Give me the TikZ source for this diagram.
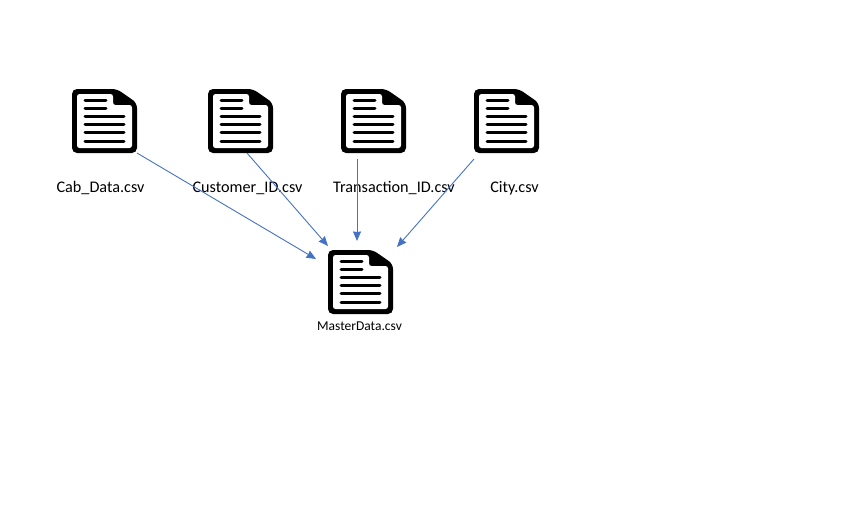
\documentclass[tikz,border=0pt]{standalone}
\usepackage{fontspec}
\setmainfont{Carlito}
\usetikzlibrary{arrows.meta}
\definecolor{linkblue}{HTML}{4472C4}
\tikzset{
  docbox/.style={minimum width=65pt, minimum height=64pt, inner sep=0pt},
  doclabel/.style={inner sep=0pt, anchor=base, font=\fontsize{16.2}{18}\selectfont, text=black},
  smalllabel/.style={inner sep=0pt, anchor=base, font=\fontsize{13.5}{15}\selectfont, text=black},
  link/.style={draw=linkblue, line width=0.9pt, -{Stealth[length=9.5pt, width=8pt, inset=0.5pt]}},
  docicon/.pic={
    % outer sheet, origin is the centre of the icon
    \fill[black, rounded corners=5pt] (-32.5,-32) -- (12.5,-32) -- (32.5,-18) -- (32.5,32) -- (-32.5,32) -- cycle;
    \fill[white, rounded corners=2.5pt] (-27.5,-27) -- (8.5,-27) -- (8.5,-16) -- (27.5,-16) -- (27.5,27) -- (-27.5,27) -- cycle;
    % text lines
    \foreach \y/\w in {-20.3/1.5, -13/1.5, -4.3/19.5, 3.3/19.5, 11.7/19.5, 20/19.5}
      \draw[black, line width=3pt, line cap=round] (-19.5,\y) -- (\w,\y);
  }
}
\begin{document}
\begin{tikzpicture}[x=1pt, y=-1pt]
  \useasboundingbox (0,0) rectangle (847,520);

  % source files
  \foreach \x/\n/\name/\lx in {104.5/cab/Cab\_Data.csv/100.5, 240.5/customer/Customer\_ID.csv/247.5, 373.5/transaction/Transaction\_ID.csv/394, 506.5/city/City.csv/514.5} {
    \node[docbox] (\n) at (\x,121) {};
    \pic at (\n.center) {docicon};
    \node[doclabel] (\n label) at (\lx,192) {\name};
  }

  % merged file
  \node[docbox] (master) at (360.5,282) {};
  \pic at (master.center) {docicon};
  \node[smalllabel] (master label) at (359.5,330) {MasterData.csv};

  % lines
  \foreach \n/\sx/\sy/\ex/\ey in {cab/137/153/316/259, customer/247/153/328/246, transaction/357/159/357/241, city/474/159/397/247} {
    \coordinate (\n from) at (\sx,\sy);
    \coordinate (\n to) at (\ex,\ey);
    \path[link] (\n from) -- (\n to);
  }
\end{tikzpicture}
\end{document}
